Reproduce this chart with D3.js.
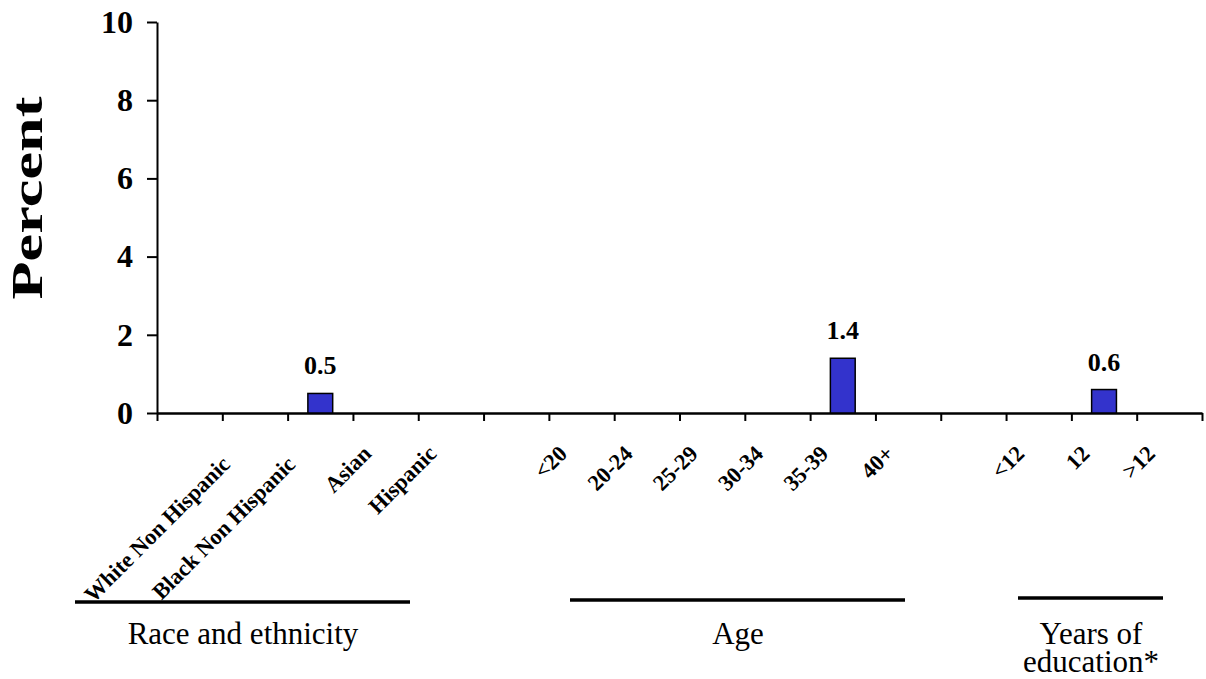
<!DOCTYPE html>
<html>
<head>
<meta charset="utf-8">
<script src="https://cdn.jsdelivr.net/npm/d3@7"></script>
<style>
  body { margin: 0; background: #fff; }
  svg { display: block; font-family: "Liberation Serif", "Times New Roman", serif; }
</style>
</head>
<body>
<div id="chart"></div>
<script>
// category slots along the x axis (blank slots separate the groups)
const categories = ["gap0", "white", "black", "asian", "hispanic", "gap1",
  "a20", "a2024", "a2529", "a3034", "a3539", "a40", "gap2", "e12lt", "e12", "e12gt"];
const categoryLabels = ["", "White Non Hispanic", "Black Non Hispanic", "Asian", "Hispanic", "",
  "<20", "20-24", "25-29", "30-34", "35-39", "40+", "", "<12", "12", ">12"];
const percentValues = [null, null, 0.5, null, null, null,
  null, null, null, null, 1.4, null, null, null, 0.6, null];
const yTicks = [0, 2, 4, 6, 8, 10];
const groupNames = [["Race and ethnicity"], ["Age"], ["Years of", "education*"]];

const W = 1206, H = 679;
const margin = { top: 22, left: 157, right: 4, bottom: 266 };
const plotW = W - margin.left - margin.right;
const plotH = H - margin.top - margin.bottom;

const svg = d3.select("#chart").append("svg")
  .attr("width", W)
  .attr("height", H);

const g = svg.append("g")
  .attr("transform", `translate(${margin.left},${margin.top})`);

// scales
const x = d3.scaleBand()
  .domain(categories)
  .range([0, plotW])
  .paddingInner(0)
  .paddingOuter(0);

const xEdge = d3.scaleLinear()
  .domain([0, categories.length])
  .range([0, plotW]);

const y = d3.scaleLinear()
  .domain([0, 10])
  .range([plotH, 0]);

// y axis
const yAxis = g.append("g")
  .call(d3.axisLeft(y).tickValues(yTicks).tickSize(10).tickSizeOuter(0).tickPadding(14));
yAxis.select(".domain").attr("stroke-width", 2);
yAxis.selectAll(".tick line").attr("stroke-width", 2);
yAxis.selectAll("text")
  .style("font-size", "32px")
  .style("font-weight", "bold")
  .style("font-family", "'Liberation Serif', 'Times New Roman', serif")
  .attr("fill", "#000");

// x axis: ticks sit on the slot boundaries
const xAxis = g.append("g")
  .attr("transform", `translate(0,${plotH})`)
  .call(d3.axisBottom(xEdge)
    .tickValues(d3.range(categories.length + 1))
    .tickFormat("")
    .tickSize(8)
    .tickSizeOuter(0));
xAxis.select(".domain").attr("stroke-width", 2.5);
xAxis.selectAll(".tick line").attr("stroke-width", 2);

// bars
const barData = categories.map((c, i) => ({ key: c, value: percentValues[i] }))
  .filter(d => d.value !== null);
const barW = x.bandwidth() * 0.38;

g.selectAll("rect.bar")
  .data(barData)
  .enter()
  .append("rect")
    .attr("class", "bar")
    .attr("x", d => x(d.key) + (x.bandwidth() - barW) / 2)
    .attr("y", d => y(d.value))
    .attr("width", barW)
    .attr("height", d => plotH - y(d.value))
    .attr("fill", "#3333CC")
    .attr("stroke", "#000")
    .attr("stroke-width", 1.5);

// value labels above the bars
g.selectAll("text.val")
  .data(barData)
  .enter()
  .append("text")
    .attr("class", "val")
    .attr("x", d => x(d.key) + x.bandwidth() / 2)
    .attr("y", d => y(d.value) - 19)
    .attr("text-anchor", "middle")
    .style("font-size", "26px")
    .style("font-weight", "bold")
    .text(d => d.value.toFixed(1));

// rotated category labels (long ones sit a little lower, like the original)
g.selectAll("text.cat")
  .data(categories.map((c, i) => ({ key: c, label: categoryLabels[i] })).filter(d => d.label))
  .enter()
  .append("text")
    .attr("class", "cat")
    .attr("transform", d => `translate(${x(d.key) + x.bandwidth() / 2 - 13},${plotH + 42}) rotate(-45)`)
    .attr("dx", d => d.label.length > 10 ? -15 : 0)
    .attr("text-anchor", "end")
    .style("font-size", "22.5px")
    .style("font-weight", "bold")
    .text(d => d.label);

// group underlines and names
const groupLines = [[75, 410, 602], [570, 905, 600], [1018, 1163, 598]];
const groupCenters = [243, 738, 1091];

groupLines.forEach(l => {
  svg.append("line")
    .attr("x1", l[0]).attr("x2", l[1])
    .attr("y1", l[2]).attr("y2", l[2])
    .attr("stroke", "#000")
    .attr("stroke-width", 3.5);
});

groupNames.forEach((lines, i) => {
  const t = svg.append("text")
    .attr("text-anchor", "middle")
    .attr("x", groupCenters[i])
    .attr("y", 644)
    .style("font-size", "31px");
  lines.forEach((s, j) => {
    t.append("tspan")
      .attr("x", groupCenters[i])
      .attr("dy", j === 0 ? 0 : 28)
      .text(s);
  });
});

// y axis title
svg.append("text")
  .attr("transform", "translate(42,198) rotate(-90)")
  .attr("text-anchor", "middle")
  .attr("textLength", 203)
  .attr("lengthAdjust", "spacingAndGlyphs")
  .style("font-size", "44px")
  .style("font-weight", "bold")
  .text("Percent");
</script>
</body>
</html>
